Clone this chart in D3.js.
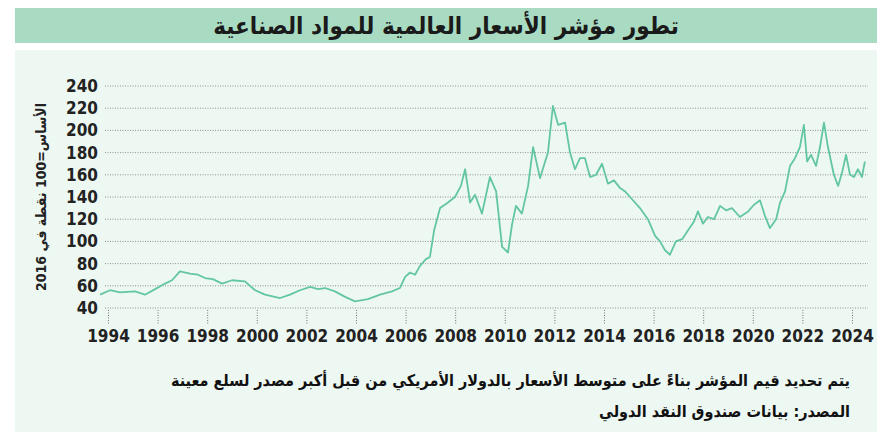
<!DOCTYPE html>
<html><head><meta charset="utf-8">
<script src="https://cdn.jsdelivr.net/npm/d3@7"></script>
<style>body{margin:0;background:#fff}svg{display:block}</style>
</head><body><svg></svg>
<script>
var width = 891, height = 440;

var years = [1993.68,1994.08,1994.48,1995.09,1995.49,1995.90,1996.30,1996.58,1996.90,1997.31,1997.63,1997.91,1998.23,1998.60,1999.00,1999.52,1999.93,2000.33,2000.94,2001.34,2001.74,2002.15,2002.47,2002.75,2003.15,2003.56,2003.96,2004.48,2004.97,2005.45,2005.77,2005.98,2006.18,2006.38,2006.58,2006.82,2006.98,2007.15,2007.39,2007.71,2007.99,2008.23,2008.40,2008.60,2008.80,2009.08,2009.40,2009.65,2009.89,2010.13,2010.29,2010.45,2010.69,2010.94,2011.14,2011.42,2011.74,2011.94,2012.15,2012.43,2012.63,2012.83,2013.03,2013.23,2013.44,2013.68,2013.92,2014.16,2014.40,2014.65,2014.85,2015.05,2015.45,2015.77,2016.06,2016.26,2016.46,2016.66,2016.90,2017.15,2017.39,2017.63,2017.79,2017.99,2018.19,2018.44,2018.68,2018.92,2019.16,2019.48,2019.81,2020.05,2020.29,2020.49,2020.69,2020.94,2021.10,2021.30,2021.50,2021.70,2021.90,2022.06,2022.19,2022.35,2022.55,2022.71,2022.87,2023.03,2023.27,2023.44,2023.60,2023.76,2023.92,2024.08,2024.24,2024.40,2024.52];
var values = [52,56,54,55,52,57,62,65,73,71,70,67,66,62,65,64,56,52,49,52,56,59,57,58,55,50,46,48,52,55,58,68,72,70,78,84,86,110,130,135,140,150,165,135,142,125,158,145,95,90,115,132,125,150,185,157,180,222,205,207,180,165,175,175,158,160,170,152,155,148,145,140,130,120,105,100,92,88,100,102,110,118,127,116,122,120,132,128,130,122,127,133,137,123,112,120,135,145,168,175,185,205,172,178,168,185,207,185,160,150,162,178,160,158,165,158,172,163];
var yTicks = [40,60,80,100,120,140,160,180,200,220,240];
var xTicks = [1994,1996,1998,2000,2002,2004,2006,2008,2010,2012,2014,2016,2018,2020,2022,2024];
var title = 'تطور مؤشر الأسعار العالمية للمواد الصناعية';
var yLabel = 'الأساس=100 نقطة في 2016';
var note = 'يتم تحديد قيم المؤشر بناءً على متوسط الأسعار بالدولار الأمريكي من قبل أكبر مصدر لسلع معينة';
var source = 'المصدر: بيانات صندوق النقد الدولي';

var font = '"DejaVu Sans Condensed", "DejaVu Sans", sans-serif';
var svg = d3.select('svg').attr('width', width).attr('height', height);

svg.append('rect').attr('x', 15).attr('y', 8).attr('width', 862).attr('height', 35).attr('fill', '#a9dbc3');
svg.append('rect').attr('x', 15).attr('y', 50).attr('width', 862).attr('height', 382).attr('fill', '#eef8f2');

svg.append('text').attr('x', 446).attr('y', 34).attr('text-anchor', 'middle')
  .style('font-family', font).style('font-size', '24px').style('font-weight', 'bold').attr('fill', '#1a1a1a').text(title);

var x = d3.scaleLinear().domain([1994, 2024]).range([108, 852]);
var y = d3.scaleLinear().domain([40, 240]).range([308, 86]);

var grid = svg.append('g');
grid.selectAll('line').data(yTicks).enter().append('line')
  .attr('x1', 105).attr('x2', 868).attr('y1', d => y(d)).attr('y2', d => y(d))
  .attr('stroke', '#777').attr('stroke-width', 0.8).attr('stroke-dasharray', '1,1.5');

var yAxis = d3.axisLeft(y).tickValues(yTicks).tickSize(0).tickPadding(6);
svg.append('g').attr('transform', 'translate(104,0)').call(yAxis)
  .call(g => g.select('.domain').remove())
  .selectAll('text').style('font-family', font).style('font-size', '17px').style('font-weight', 'bold').attr('fill', '#222');

var xAxis = d3.axisBottom(x).tickValues(xTicks).tickFormat(d3.format('d')).tickSize(14).tickPadding(6);
var gx = svg.append('g').attr('transform', 'translate(0,310)').call(xAxis);
gx.select('.domain').remove();
gx.selectAll('line').attr('stroke', '#777').attr('stroke-dasharray', '1,1.5');
gx.selectAll('text').style('font-family', font).style('font-size', '17px').style('font-weight', 'bold').attr('fill', '#222');

var line = d3.line().x(d => x(d[0])).y(d => y(d[1]));
svg.append('path').datum(d3.zip(years, values)).attr('d', line)
  .attr('fill', 'none').attr('stroke', '#63c6a2').attr('stroke-width', 1.8).attr('stroke-linejoin', 'round');

svg.append('text').attr('transform', 'rotate(-90)').attr('x', -197).attr('y', 46)
  .attr('text-anchor', 'middle').style('font-family', font).style('font-size', '14px').style('font-weight', 'bold')
  .attr('fill', '#222').text(yLabel);

svg.append('text').attr('x', 850).attr('y', 386).attr('text-anchor', 'start').attr('direction', 'rtl')
  .style('font-family', font).style('font-size', '16px').style('font-weight', 'bold').attr('fill', '#111').text(note);
svg.append('text').attr('x', 850).attr('y', 417).attr('text-anchor', 'start').attr('direction', 'rtl')
  .style('font-family', font).style('font-size', '16px').style('font-weight', 'bold').attr('fill', '#111').text(source);
</script></body></html>
